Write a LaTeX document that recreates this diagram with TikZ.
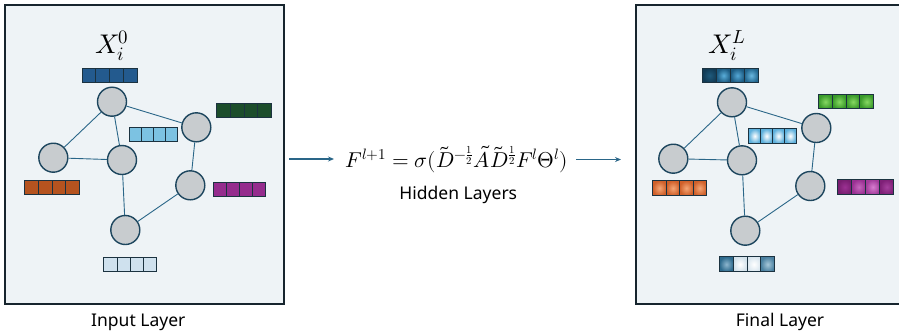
\documentclass[tikz,border=0pt]{standalone}
\usepackage{fontspec}
\setmainfont{Noto Sans}
\usepackage{unicode-math}
\setmathfont{Latin Modern Math}
\usetikzlibrary{arrows.meta}
\definecolor{boxfill}{HTML}{EEF3F6}
\definecolor{boxline}{HTML}{17252E}
\definecolor{edgec}{HTML}{2A6688}
\definecolor{nodefill}{HTML}{C8CCCF}
\definecolor{nodeline}{HTML}{1D465E}
\definecolor{sqline}{HTML}{1B3240}
\definecolor{cBlue}{HTML}{235A8E}
\definecolor{cGreen}{HTML}{1C4D2B}
\definecolor{cLight}{HTML}{7CC2E2}
\definecolor{cOrange}{HTML}{B5531F}
\definecolor{cPurple}{HTML}{952C8D}
\definecolor{cPale}{HTML}{CFE1EE}
% shaded colours
\definecolor{bA1}{HTML}{1F5A7C}\definecolor{bA2}{HTML}{123B55}
\definecolor{bB1}{HTML}{5AAEDA}\definecolor{bB2}{HTML}{1C5B82}
\definecolor{bC1}{HTML}{55A8D6}\definecolor{bC2}{HTML}{1C5B82}
\definecolor{bD1}{HTML}{6AB8E0}\definecolor{bD2}{HTML}{22668E}
\definecolor{lt2}{HTML}{5DB0DC}
\definecolor{gr1}{HTML}{86D862}\definecolor{gr2}{HTML}{3A9A2A}
\definecolor{or1}{HTML}{F4A676}\definecolor{or2}{HTML}{D0602A}
\definecolor{pA1}{HTML}{9C3193}\definecolor{pA2}{HTML}{781E70}
\definecolor{pB1}{HTML}{C667BE}\definecolor{pB2}{HTML}{9A3092}
\definecolor{pC1}{HTML}{D77ED0}\definecolor{pC2}{HTML}{A33C9B}
\definecolor{pD1}{HTML}{A5409D}\definecolor{pD2}{HTML}{7F2077}
\definecolor{qA1}{HTML}{8DB6CE}\definecolor{qA2}{HTML}{2D6A8D}
\definecolor{qB2}{HTML}{D3E2EB}
\definecolor{qC2}{HTML}{DAE7EF}
\definecolor{qD1}{HTML}{A6C7D9}\definecolor{qD2}{HTML}{4A80A0}
\tikzset{
  panel/.style={draw=boxline, line width=2pt, fill=boxfill},
  gnode/.style={circle, draw=nodeline, line width=1.4pt, fill=nodefill, minimum size=29pt, inner sep=0pt},
  gedge/.style={draw=edgec, line width=0.9pt},
  sq/.style={draw=sqline, line width=1pt, inner sep=0pt, anchor=north west},
  flowarrow/.style={draw=edgec, line width=1.1pt, -{Stealth[length=6pt,width=5pt]}},
  caption/.style={font=\fontsize{17.5}{20}\selectfont, text=black},
}
\newcommand{\plainbar}[6]{% name, x, y, square width, height, color
  \foreach \k in {0,1,2,3}{
    \node[sq, fill=#6, minimum width=#4pt, minimum height=#5pt] (#1\k) at ({#2+\k*#4},#3) {};
  }}
\newcommand{\shadesq}[7]{% name, x, y, w, h, inner, outer
  \node[sq, minimum width=#4pt, minimum height=#5pt, shading=radial, inner color=#6, outer color=#7] (#1) at (#2,#3) {};}
\begin{document}
\begin{tikzpicture}[x=1pt,y=-1pt]
\useasboundingbox (0,0) rectangle (899,335);
\begin{scope}
\clip (0,0) rectangle (899,335);
\node[panel, anchor=north west, minimum width=279pt, minimum height=299pt, inner sep=0pt] (leftpanel) at (3.5,3.5) {};
\node[panel, anchor=north west, minimum width=300pt, minimum height=299pt, inner sep=0pt] (rightpanel) at (635,3.5) {};
\end{scope}

% ---------- left graph ----------
\node[gnode] (la) at (112,101.7) {};
\node[gnode] (lb) at (196.3,127.3) {};
\node[gnode] (lc) at (53.3,157.7) {};
\node[gnode] (ld) at (122,160) {};
\node[gnode] (le) at (190.3,185.3) {};
\node[gnode] (lf) at (125.3,230) {};
\draw[gedge] (la) -- (lc);
\draw[gedge] (la) -- (ld);
\draw[gedge] (la) -- (lb);
\draw[gedge] (lc) -- (ld);
\draw[gedge] (ld) -- (lf);
\draw[gedge] (lb) -- (le);
\draw[gedge] (le) -- (lf);

\node (lx) at (112,46) {\fontsize{27}{30}\selectfont$X_i^0$};
\plainbar{lbl}{81.7}{67.7}{13.75}{14.6}{cBlue}
\plainbar{lgr}{216}{103.3}{13.8}{14}{cGreen}
\plainbar{llt}{129.3}{126.7}{11.85}{14.3}{cLight}
\plainbar{lor}{24}{180}{13.8}{14.3}{cOrange}
\plainbar{lpu}{213}{181.7}{13.1}{14}{cPurple}
\plainbar{lpa}{103.3}{256.7}{13.25}{14.3}{cPale}

\node[caption] (lcap) at (138.3,322) {Input Layer};

% ---------- right graph ----------
\node[gnode] (ra) at (732,102.3) {};
\node[gnode] (rb) at (816.3,128) {};
\node[gnode] (rc) at (673.3,158.7) {};
\node[gnode] (rd) at (742,160.3) {};
\node[gnode] (re) at (810.3,186) {};
\node[gnode] (rf) at (745.3,230.7) {};
\draw[gedge] (ra) -- (rc);
\draw[gedge] (ra) -- (rd);
\draw[gedge] (ra) -- (rb);
\draw[gedge] (rc) -- (rd);
\draw[gedge] (rd) -- (rf);
\draw[gedge] (rb) -- (re);
\draw[gedge] (re) -- (rf);

\node (rx) at (727,46) {\fontsize{27}{30}\selectfont$X_i^L$};
% top blue
\shadesq{rbl0}{702.3}{67.7}{13.85}{14.6}{bA1}{bA2}
\shadesq{rbl1}{716.15}{67.7}{13.85}{14.6}{bB1}{bB2}
\shadesq{rbl2}{730}{67.7}{13.85}{14.6}{bC1}{bC2}
\shadesq{rbl3}{743.85}{67.7}{13.85}{14.6}{bD1}{bD2}
% light
\foreach \k in {0,1,2,3}{
  \shadesq{rlt\k}{748.3+\k*11.85}{128.3}{11.85}{14.4}{white}{lt2}
}
% green
\foreach \k in {0,1,2,3}{
  \shadesq{rgr\k}{818+\k*13.8}{94.3}{13.8}{14}{gr1}{gr2}
}
% orange
\foreach \k in {0,1,2,3}{
  \shadesq{ror\k}{652.3+\k*13.4}{180.3}{13.4}{14.7}{or1}{or2}
}
% purple
\shadesq{rpu0}{837.3}{179}{14}{15}{pA1}{pA2}
\shadesq{rpu1}{851.3}{179}{14}{15}{pB1}{pB2}
\shadesq{rpu2}{865.3}{179}{14}{15}{pC1}{pC2}
\shadesq{rpu3}{879.3}{179}{14}{15}{pD1}{pD2}
% bottom
\shadesq{rpa0}{719}{256.3}{13.75}{15}{qA1}{qA2}
\shadesq{rpa1}{732.75}{256.3}{13.75}{15}{white}{qB2}
\shadesq{rpa2}{746.5}{256.3}{13.75}{15}{white}{qC2}
\shadesq{rpa3}{760.25}{256.3}{13.75}{15}{qD1}{qD2}

\node[caption] (rcap) at (780,322) {Final Layer};

% ---------- middle ----------
\node (formula) at (456.7,159) {\fontsize{21.5}{25}\selectfont$F^{l+1}=\sigma(\tilde{D}^{-\frac{1}{2}}\tilde{A}\tilde{D}^{\frac{1}{2}}F^{l}\Theta^{l})$};
\node[caption] (hidden) at (458.3,195) {Hidden Layers};
\coordinate (a1s) at (289.3,159);
\coordinate (a1e) at (334,159);
\coordinate (a2s) at (576,159.5);
\coordinate (a2e) at (621,159.5);
\draw[flowarrow] (a1s) -- (a1e);
\draw[flowarrow] (a2s) -- (a2e);
\end{tikzpicture}
\end{document}
